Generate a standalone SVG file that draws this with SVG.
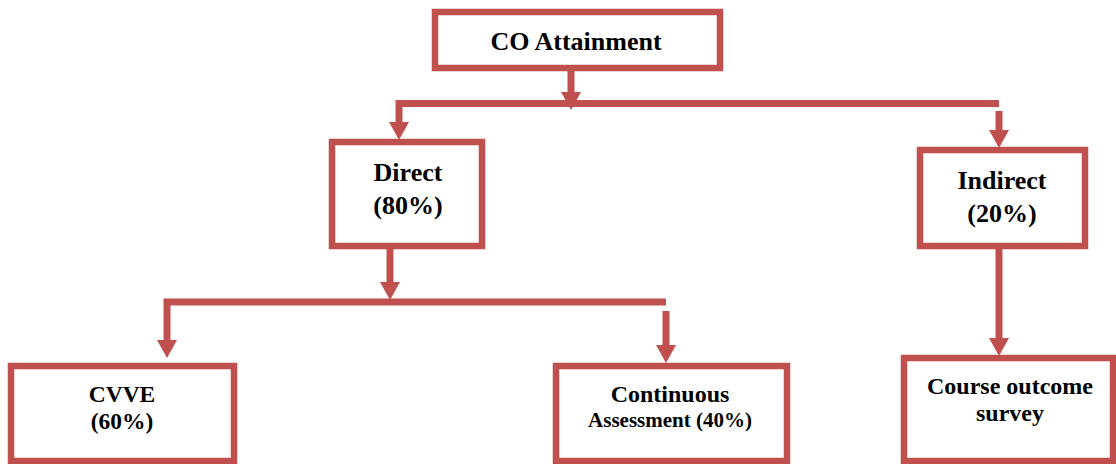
<svg xmlns="http://www.w3.org/2000/svg" width="1116" height="464" viewBox="0 0 1116 464">
<style>
.box{fill:#fff;stroke:#C0504D;stroke-width:6.5}
.ln{fill:none;stroke:#C0504D;stroke-width:7;stroke-linejoin:miter;stroke-linecap:butt}
.ah{fill:#C0504D}
.t{font-family:'Liberation Serif',serif;font-weight:bold;fill:#000;text-anchor:middle}
</style>
<defs>
<polygon id="arrow" points="-10,-18 10,-18 0,0"/>
</defs>
<rect width="1116" height="464" fill="#fff"/>
<g id="connectors">
<path class="ln" d="M571 71 V92"/>
<use href="#arrow" class="ah" x="571" y="110"/>
<path class="ln" d="M999 103.5 H399 V124"/>
<use href="#arrow" class="ah" x="399" y="140"/>
<path class="ln" d="M999 111 V133"/>
<use href="#arrow" class="ah" x="999" y="148"/>
<path class="ln" d="M390 249 V285"/>
<use href="#arrow" class="ah" x="390" y="300"/>
<path class="ln" d="M666 302 H167 V341"/>
<use href="#arrow" class="ah" x="167" y="358"/>
<path class="ln" d="M666 311 V349"/>
<use href="#arrow" class="ah" x="666" y="363"/>
<path class="ln" d="M999 249 V341"/>
<use href="#arrow" class="ah" x="999" y="356"/>
</g>
<g id="co">
<rect class="box" x="435" y="12" width="285" height="56"/>
<text class="t" font-family="Liberation Serif, serif" x="576" y="50" font-size="26">CO Attainment</text>
</g>
<g id="direct">
<rect class="box" x="332" y="142" width="150" height="104"/>
<text class="t" font-family="Liberation Serif, serif" x="408" y="181" font-size="26">Direct</text>
<text class="t" font-family="Liberation Serif, serif" x="408" y="214" font-size="26">(80%)</text>
</g>
<g id="indirect">
<rect class="box" x="920" y="150" width="165" height="96"/>
<text class="t" font-family="Liberation Serif, serif" x="1002" y="189" font-size="26">Indirect</text>
<text class="t" font-family="Liberation Serif, serif" x="1002" y="222" font-size="26">(20%)</text>
</g>
<g id="cvve">
<rect class="box" x="11" y="366" width="223" height="95"/>
<text class="t" font-family="Liberation Serif, serif" x="122" y="402" font-size="23.5">CVVE</text>
<text class="t" font-family="Liberation Serif, serif" x="122" y="429" font-size="23.5">(60%)</text>
</g>
<g id="continuous">
<rect class="box" x="556" y="366" width="231" height="95"/>
<text class="t" font-family="Liberation Serif, serif" x="670" y="402" font-size="24">Continuous</text>
<text class="t" font-family="Liberation Serif, serif" x="670" y="427" font-size="21">Assessment (40%)</text>
</g>
<g id="survey">
<rect class="box" x="904" y="358" width="209" height="103"/>
<text class="t" font-family="Liberation Serif, serif" x="1010" y="394" font-size="24">Course outcome</text>
<text class="t" font-family="Liberation Serif, serif" x="1010" y="421" font-size="24">survey</text>
</g>
</svg>
